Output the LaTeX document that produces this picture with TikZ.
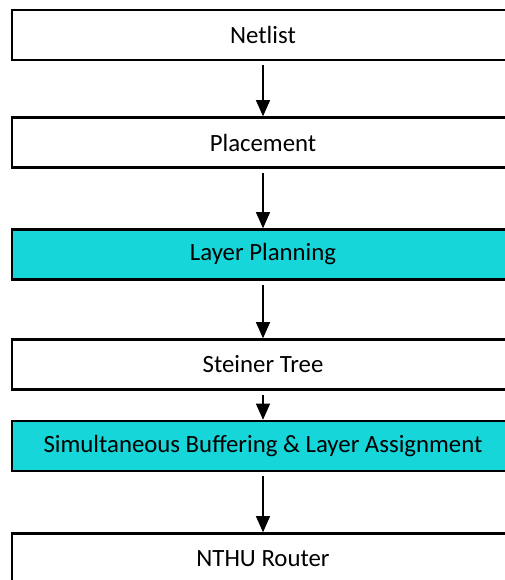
\documentclass[tikz,border=0pt]{standalone}
\usepackage{fontspec}
\setmainfont{Carlito}
\usetikzlibrary{arrows.meta}

\definecolor{plancyan}{HTML}{17D6DA}

\tikzset{
    flowbox/.style = {draw, line width=1.9pt, minimum width=376.5pt, minimum height=37.5pt,
                      inner sep=0pt, font=\fontsize{18.6}{22}\selectfont},
    hibox/.style   = {flowbox, fill=plancyan},
    flowarrow/.style = {->, >={Triangle[length=12pt, width=10.5pt]}, line width=0.8pt, shorten <=3pt}
}

\begin{document}
\begin{tikzpicture}[x=0.75pt, y=-0.75pt]
    \useasboundingbox (0,0) rectangle (505,580);
    % flow steps, top to bottom
    \node [flowbox] (netlist) at (263,35) {Netlist};
    \node [flowbox] (placement) at (263,142.5) {Placement};
    \node [hibox] (layerplan) at (263,254.5) {Layer Planning};
    \node [flowbox] (steiner) at (263,364.5) {Steiner Tree};
    \node [hibox] (buffering) at (263,446) {Simultaneous Buffering \& Layer Assignment};
    \node [flowbox] (router) at (263,558.5) {NTHU Router};
    % arrows between steps
    \draw [flowarrow] (netlist) -- (placement);
    \draw [flowarrow] (placement) -- (layerplan);
    \draw [flowarrow] (layerplan) -- (steiner);
    \draw [flowarrow] (steiner) -- (buffering);
    \draw [flowarrow] (buffering) -- (router);
\end{tikzpicture}
\end{document}
